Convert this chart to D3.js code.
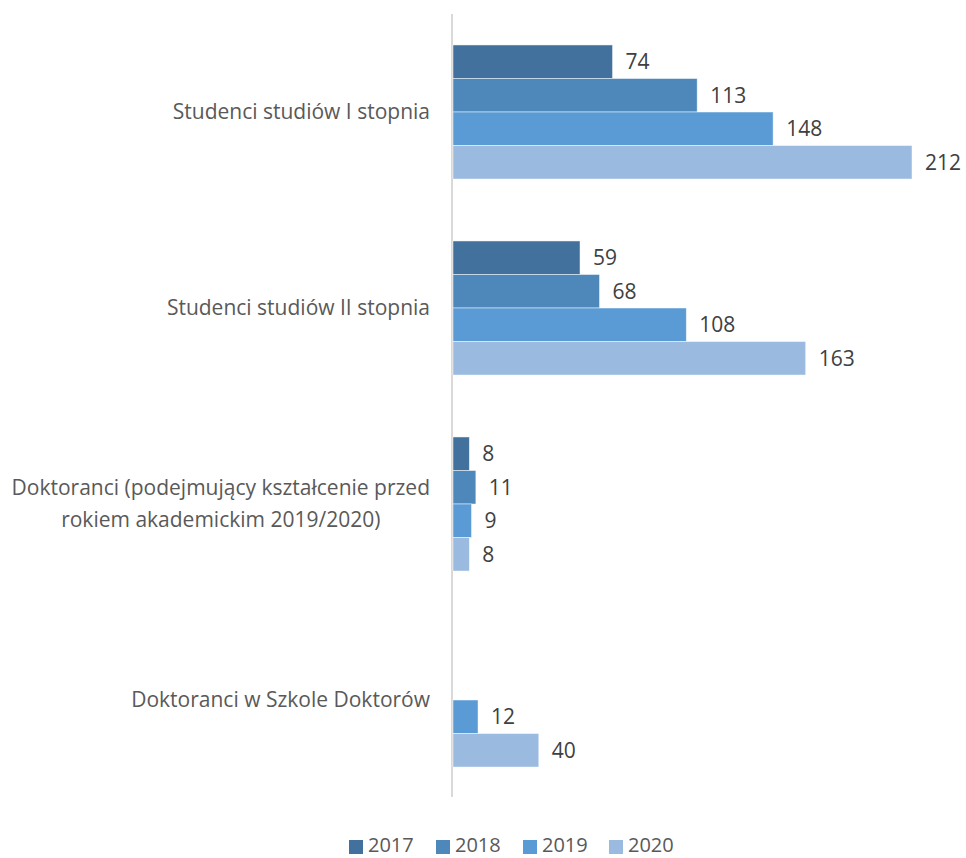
<!DOCTYPE html>
<html>
<head>
<meta charset="utf-8">
<script src="https://cdn.jsdelivr.net/npm/d3@7"></script>
<style>
  body { margin: 0; background: #fff; }
  text { font-family: "Open Sans", "Noto Sans", sans-serif; fill: #595959; }
</style>
</head>
<body>
<svg id="chart" width="966" height="858"></svg>
<script>
const categories = [
  ["Studenci studiów I stopnia"],
  ["Studenci studiów II stopnia"],
  ["Doktoranci (podejmujący kształcenie przed", "rokiem akademickim 2019/2020)"],
  ["Doktoranci w Szkole Doktorów"]
];
const seriesNames = ["2017", "2018", "2019", "2020"];
const values2017 = [74, 59, 8, null];
const values2018 = [113, 68, 11, null];
const values2019 = [148, 108, 9, 12];
const values2020 = [212, 163, 8, 40];
const seriesValues = [values2017, values2018, values2019, values2020];
const colors = ["#41719c", "#4e88bb", "#5b9bd5", "#9abae0"];

const svg = d3.select("#chart");
const plotLeft = 452, plotRight = 912, plotTop = 14, plotBottom = 798;

const x = d3.scaleLinear().domain([0, 212]).range([plotLeft, plotRight]);
const y = d3.scaleBand().domain(d3.range(categories.length)).range([plotTop, plotBottom]).paddingInner(0.316).paddingOuter(0.158);
const ySub = d3.scaleBand().domain(d3.range(seriesNames.length)).range([0, y.bandwidth()]);

// axis line
svg.append("line").attr("x1", plotLeft).attr("x2", plotLeft).attr("y1", plotTop).attr("y2", plotBottom - 1)
  .attr("stroke", "#d9d9d9").attr("stroke-width", 2);

const groups = svg.selectAll("g.grp").data(categories).join("g")
  .attr("class", "grp").attr("transform", (d, i) => `translate(0,${y(i)})`);

seriesNames.forEach((s, si) => {
  groups.each(function(d, ci) {
    const v = seriesValues[si][ci];
    if (v == null) return;
    const g = d3.select(this);
    g.append("rect")
      .attr("x", x(0) + 1)
      .attr("y", ySub(si))
      .attr("width", x(v) - x(0) - 1)
      .attr("height", ySub.bandwidth())
      .attr("fill", colors[si])
      .attr("stroke", "#ffffff").attr("stroke-width", 0.8).attr("stroke-opacity", 0.6);
    g.append("text")
      .attr("x", x(v) + 13)
      .attr("y", ySub(si) + ySub.bandwidth() / 2)
      .attr("dy", "0.35em")
      .attr("font-size", 21)
      .style("fill", "#404040")
      .text(v);
  });
});

// category labels
const labelRight = 430;
groups.each(function(lines, ci) {
  const g = d3.select(this);
  const cy = y.bandwidth() / 2;
  const lh = 32;
  const t = g.append("text").attr("font-size", 21);
  const spans = lines.map((ln, li) => t.append("tspan")
    .attr("y", cy + (li - (lines.length - 1) / 2) * lh)
    .attr("dy", "0.35em").text(ln));
  if (lines.length === 1) {
    t.attr("text-anchor", "end");
    spans[0].attr("x", labelRight);
  } else {
    const maxW = d3.max(spans, sp => sp.node().getComputedTextLength());
    t.attr("text-anchor", "middle");
    spans.forEach(sp => sp.attr("x", labelRight - maxW / 2));
  }
});

// legend
const legendX = [349, 436, 523, 609];
const legend = svg.append("g");
seriesNames.forEach((s, i) => {
  legend.append("rect").attr("x", legendX[i]).attr("y", 840).attr("width", 14).attr("height", 14).attr("fill", colors[i]);
  legend.append("text").attr("x", legendX[i] + 19).attr("y", 852)
    .attr("font-size", 20).text(s);
});
</script>
</body>
</html>
